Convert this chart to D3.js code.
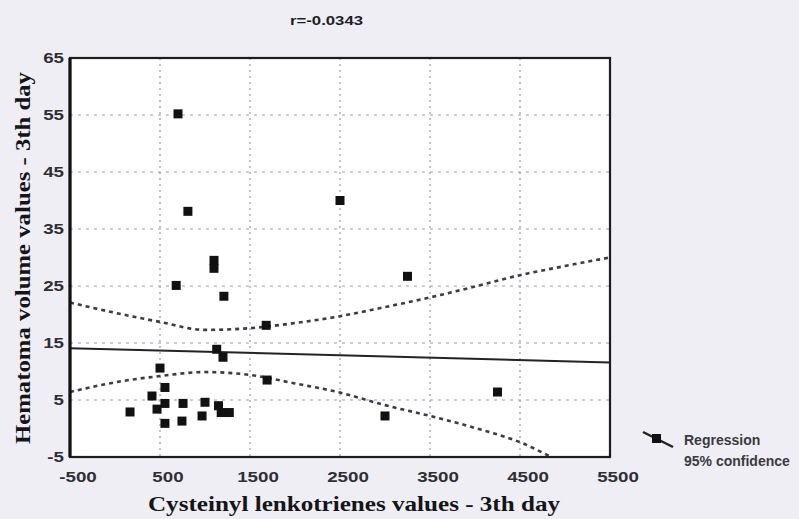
<!DOCTYPE html>
<html>
<head>
<meta charset="utf-8">
<script src="https://cdn.jsdelivr.net/npm/d3@7"></script>
<style>
  html, body { margin: 0; padding: 0; background: #eeeef4; }
  svg { display: block; }
</style>
</head>
<body>
<svg id="chart"></svg>
<script>
// data
const cysLT = [700, 810, 2500, 1100, 1100, 680, 1210, 1680, 1130, 1200, 500, 1690, 555, 411,
  555, 467, 167, 555, 756, 744, 1000, 967, 1150, 1180, 1270, 3000, 3250, 4250];
const hematoma = [55.2, 38.1, 40.0, 29.5, 28.1, 25.1, 23.2, 18.1, 13.9, 12.5, 10.6, 8.5, 7.2, 5.7,
  4.4, 3.4, 2.9, 0.9, 4.4, 1.3, 4.6, 2.2, 4.0, 2.8, 2.8, 2.2, 26.7, 6.4];

const regX = [-500, 5500];
const regY = [14.1, 11.6];

const bandX = [-500, 0, 500, 1000, 1500, 2000, 2500, 3000, 3500, 4000, 4500, 5000, 5500];
const upperBand = [22.1, 20.3, 18.7, 17.3, 17.6, 18.5, 19.7, 21.3, 23.0, 24.9, 26.9, 28.5, 30.0];
const lowerBand = [6.4, 8.1, 9.2, 9.9, 9.4, 7.9, 6.3, 4.1, 2.2, 0.1, -2.4, -6.2, -9.8];

const xTicks = [-500, 500, 1500, 2500, 3500, 4500, 5500];
const yTicks = [-5, 5, 15, 25, 35, 45, 55, 65];
const legendLabels = ["Regression", "95% confidence"];

const w = 799;
const h = 519;
const svg = d3.select("#chart").attr("width", w).attr("height", h);

const x = d3.scaleLinear().domain([-500, 5500]).range([70, 610]);
const y = d3.scaleLinear().domain([-5, 65]).range([457, 58]);

// plot area
svg.append("rect")
  .attr("x", x(-500)).attr("y", y(65))
  .attr("width", x(5500) - x(-500)).attr("height", y(-5) - y(65))
  .attr("fill", "#ffffff");

svg.append("clipPath").attr("id", "plotclip")
  .append("rect")
  .attr("x", x(-500)).attr("y", y(65))
  .attr("width", x(5500) - x(-500)).attr("height", y(-5) - y(65));

// grid
svg.append("g")
  .selectAll("line")
  .data(xTicks.slice(1, -1))
  .join("line")
    .attr("x1", d => x(d)).attr("x2", d => x(d))
    .attr("y1", y(65)).attr("y2", y(-5))
    .attr("stroke", "#9a9aa4")
    .attr("stroke-width", 1.2)
    .attr("stroke-dasharray", "2,4");

svg.append("g")
  .selectAll("line")
  .data(yTicks.slice(1, -1))
  .join("line")
    .attr("x1", x(-500)).attr("x2", x(5500))
    .attr("y1", d => y(d)).attr("y2", d => y(d))
    .attr("stroke", "#9a9aa4")
    .attr("stroke-width", 1.2)
    .attr("stroke-dasharray", "3,5");

const plot = svg.append("g").attr("clip-path", "url(#plotclip)");

// confidence bands
const band = d3.line().x(d => x(d[0])).y(d => y(d[1])).curve(d3.curveMonotoneX);
[upperBand, lowerBand].forEach(vals => {
  plot.append("path")
    .datum(bandX.map((v, i) => [v, vals[i]]))
    .attr("d", band)
    .attr("fill", "none")
    .attr("stroke", "#3c3c46")
    .attr("stroke-width", 2.6)
    .attr("stroke-dasharray", "4,4");
});

// regression line
plot.append("path")
  .datum(regX.map((v, i) => [v, regY[i]]))
  .attr("d", d3.line().x(d => x(d[0])).y(d => y(d[1])))
  .attr("fill", "none")
  .attr("stroke", "#222228")
  .attr("stroke-width", 2);

// points
plot.selectAll("rect.pt")
  .data(cysLT.map((v, i) => [v, hematoma[i]]))
  .join("rect")
    .attr("class", "pt")
    .attr("x", d => x(d[0]) - 4.5)
    .attr("y", d => y(d[1]) - 4.5)
    .attr("width", 9)
    .attr("height", 9)
    .attr("fill", "#111111");

// frame
svg.append("rect")
  .attr("x", x(-500)).attr("y", y(65))
  .attr("width", x(5500) - x(-500)).attr("height", y(-5) - y(65))
  .attr("fill", "none")
  .attr("stroke", "#1c1c22")
  .attr("stroke-width", 2.2);
svg.append("line")
  .attr("x1", x(-500)).attr("x2", x(-500))
  .attr("y1", y(65)).attr("y2", y(-5))
  .attr("stroke", "#111").attr("stroke-width", 3.2);

// tick labels (the scan is stretched sideways, so the labels are widened)
svg.append("g")
  .selectAll("text")
  .data(yTicks)
  .join("text")
    .attr("transform", d => `translate(64,${y(d)}) scale(1.25,1)`)
    .attr("dy", "0.36em")
    .attr("text-anchor", "end")
    .attr("font-family", "Arial, 'Liberation Sans', sans-serif")
    .attr("font-weight", "bold")
    .attr("font-size", 15)
    .attr("fill", "#2e2e34")
    .text(d => d);

svg.append("g")
  .selectAll("text")
  .data(xTicks)
  .join("text")
    .attr("transform", d => `translate(${x(d) + 8},482) scale(1.25,1)`)
    .attr("text-anchor", "middle")
    .attr("font-family", "Arial, 'Liberation Sans', sans-serif")
    .attr("font-weight", "bold")
    .attr("font-size", 15)
    .attr("fill", "#2e2e34")
    .text(d => d);

// titles
svg.append("text")
  .attr("x", 290).attr("y", 25)
  .attr("font-family", "Arial, 'Liberation Sans', sans-serif")
  .attr("font-weight", "bold")
  .attr("font-size", 12)
  .attr("fill", "#1e1e22")
  .attr("textLength", 73)
  .attr("lengthAdjust", "spacingAndGlyphs")
  .text("r=-0.0343");

svg.append("text")
  .attr("x", 354).attr("y", 511)
  .attr("text-anchor", "middle")
  .attr("font-family", "'Liberation Serif', 'Times New Roman', serif")
  .attr("font-weight", "bold")
  .attr("font-size", 21)
  .attr("fill", "#151518")
  .attr("textLength", 412)
  .attr("lengthAdjust", "spacingAndGlyphs")
  .text("Cysteinyl  lenkotrienes values - 3th day");

svg.append("text")
  .attr("transform", "translate(30,258) rotate(-90)")
  .attr("text-anchor", "middle")
  .attr("font-family", "'Liberation Serif', 'Times New Roman', serif")
  .attr("font-weight", "bold")
  .attr("font-size", 21)
  .attr("fill", "#151518")
  .attr("textLength", 372)
  .attr("lengthAdjust", "spacingAndGlyphs")
  .text("Hematoma  volume values - 3th day");

// legend
const lg = svg.append("g");
lg.append("line")
  .attr("x1", 643).attr("y1", 432).attr("x2", 673).attr("y2", 447)
  .attr("stroke", "#222").attr("stroke-width", 2.4);
lg.append("rect")
  .attr("x", 652).attr("y", 434).attr("width", 9).attr("height", 9)
  .attr("fill", "#111");
lg.selectAll("text")
  .data(legendLabels)
  .join("text")
    .attr("x", 684)
    .attr("y", (d, i) => 445 + i * 21)
    .attr("font-family", "Arial, 'Liberation Sans', sans-serif")
    .attr("font-weight", "bold")
    .attr("font-size", 14)
    .attr("fill", "#3a3a40")
    .text(d => d);
</script>
</body>
</html>
